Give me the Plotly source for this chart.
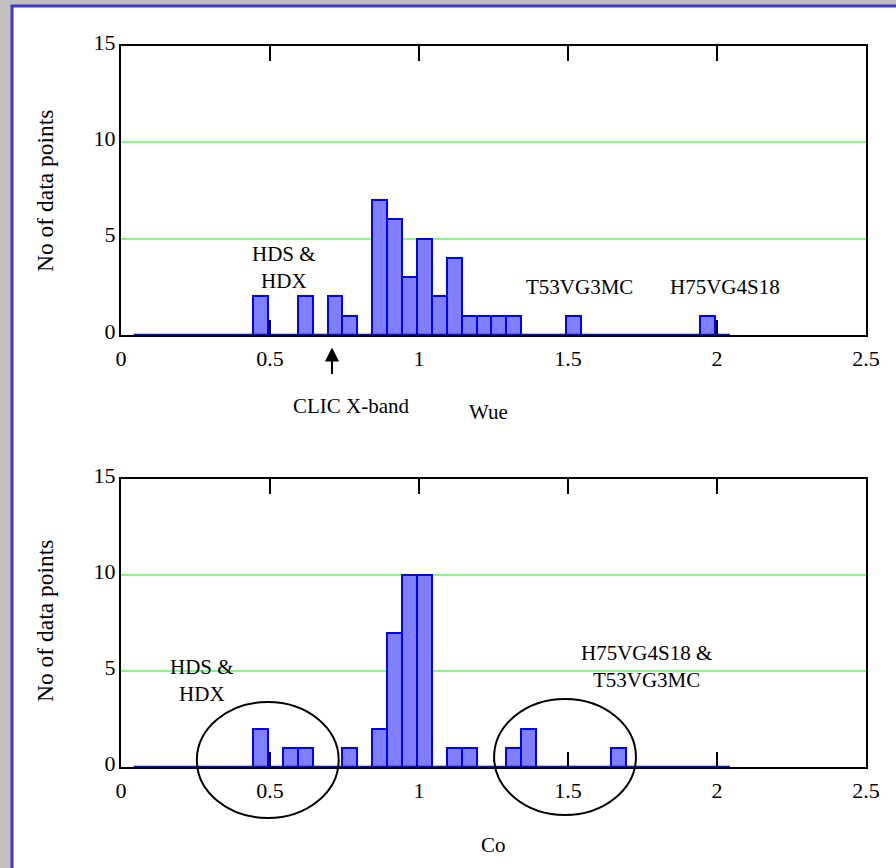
import plotly.graph_objects as go

# ---------------- data ----------------
# Wue histogram: bin centres (bin width 0.05) and counts
wue_centers = [0.468, 0.618, 0.718, 0.768, 0.868, 0.918, 0.968, 1.018,
               1.068, 1.118, 1.168, 1.218, 1.268, 1.318, 1.518, 1.968]
wue_counts = [2, 2, 2, 1, 7, 6, 3, 5, 2, 4, 1, 1, 1, 1, 1, 1]

# Co histogram
co_centers = [0.468, 0.568, 0.618, 0.768, 0.868, 0.918, 0.968, 1.018,
              1.118, 1.168, 1.318, 1.368, 1.668]
co_counts = [2, 1, 1, 1, 2, 7, 10, 10, 1, 1, 1, 2, 1]

bin_width = 0.05
hist_range = [0.043, 2.043]          # extent of the histogram bins (zero bins drawn as a line)

x_ticks = [0, 0.5, 1, 1.5, 2, 2.5]
x_tick_labels = ["0", "0.5", "1", "1.5", "2", "2.5"]
y_ticks = [0, 5, 10, 15]
y_tick_labels = ["0", "5", "10", "15"]

# ---------------- layout geometry ----------------
W, H = 896, 868
ML, MR, MT, MB = 121, 30, 46, 101
PW, PH = W - ML - MR, H - MT - MB
PLOT_BOTTOM = H - MB
dom_top = [(PLOT_BOTTOM - 335) / PH, 1.0]
dom_bot = [0.0, (PLOT_BOTTOM - 479) / PH]

FONT = "Liberation Serif"
BAR_FILL = "#8080ff"
BAR_LINE = "#0000ff"
GRID = "#80ff80"


def px2paper(px, py):
    return (px - ML) / PW, (PLOT_BOTTOM - py) / PH


def data2paper(x, y, dom):
    return x / 2.5, dom[0] + y / 15 * (dom[1] - dom[0])


fig = go.Figure()

for xs, ys, xa, ya in [(wue_centers, wue_counts, "x", "y"),
                       (co_centers, co_counts, "x2", "y2")]:
    fig.add_trace(go.Bar(
        x=xs, y=ys, width=bin_width, xaxis=xa, yaxis=ya,
        marker=dict(color=BAR_FILL, line=dict(color=BAR_LINE, width=2)),
        cliponaxis=False, showlegend=False, hoverinfo="skip"))
    fig.add_trace(go.Scatter(
        x=hist_range, y=[0, 0], mode="lines", xaxis=xa, yaxis=ya,
        line=dict(color=BAR_LINE, width=2.5), cliponaxis=False,
        showlegend=False, hoverinfo="skip"))

xaxis_common = dict(
    range=[0, 2.5], tickmode="array", tickvals=x_ticks, ticktext=x_tick_labels,
    ticks="inside", ticklen=15, tickwidth=2, tickcolor="black",
    showline=True, linecolor="black", linewidth=2, mirror="ticks",
    showgrid=False, zeroline=False, layer="below traces",
    tickfont=dict(family=FONT, size=22, color="black"),
    ticklabelstandoff=3, fixedrange=True,
)
yaxis_common = dict(
    range=[0, 15], tickmode="array", tickvals=y_ticks, ticktext=y_tick_labels,
    ticks="", showline=True, linecolor="black", linewidth=2, mirror=True,
    showgrid=True, gridcolor=GRID, gridwidth=2, zeroline=False,
    layer="below traces", tickfont=dict(family=FONT, size=22, color="black"),
    ticklabelstandoff=-1, ticklabelshift=-4, fixedrange=True,
)

fig.update_layout(
    width=W, height=H,
    margin=dict(l=ML, r=MR, t=MT, b=MB, pad=0),
    paper_bgcolor="#c3bdbb", plot_bgcolor="white",
    font=dict(family=FONT, size=21, color="black"),
    bargap=0,
    xaxis=dict(domain=[0, 1], anchor="y", **xaxis_common),
    yaxis=dict(domain=dom_top, anchor="x", **yaxis_common),
    xaxis2=dict(domain=[0, 1], anchor="y2", **xaxis_common),
    yaxis2=dict(domain=dom_bot, anchor="x2", **yaxis_common),
)

# white slide panel with blue border
x0p, y1p = px2paper(12, 6)
x1p, y0p = px2paper(910, 880)
fig.add_shape(type="rect", xref="paper", yref="paper", x0=x0p, x1=x1p, y0=y0p, y1=y1p,
              fillcolor="white", line=dict(color="#3a3ad0", width=3), layer="below")

# ellipses in the lower chart (given in data units)
for (cx, cy, rx, ry) in [(0.4925, 0.36, 0.238, 3.02), (1.49, 0.52, 0.238, 3.02)]:
    ex0, ey0 = data2paper(cx - rx, cy - ry, dom_bot)
    ex1, ey1 = data2paper(cx + rx, cy + ry, dom_bot)
    fig.add_shape(type="circle", xref="paper", yref="paper",
                  x0=ex0, x1=ex1, y0=ey0, y1=ey1,
                  line=dict(color="black", width=2), layer="above")

ann_font = dict(family=FONT, size=21, color="black")
annotations = [
    # (x, y in data units, chart domain, text)
    (0.547, 3.49, dom_top, "HDS &amp;<br>HDX"),
    (1.539, 2.5, dom_top, "T53VG3MC"),
    (2.026, 2.5, dom_top, "H75VG4S18"),
    (0.773, -3.7, dom_top, "CLIC X-band"),
    (1.232, -4.0, dom_top, "Wue"),
    (0.271, 4.53, dom_bot, "HDS &amp;<br>HDX"),
    (1.765, 5.26, dom_bot, "H75VG4S18 &amp;<br>T53VG3MC"),
    (1.251, -4.06, dom_bot, "Co"),
]
for (ax_, ay_, dom, txt) in annotations:
    xp, yp = data2paper(ax_, ay_, dom)
    fig.add_annotation(x=xp, y=yp, xref="paper", yref="paper", text=txt,
                       showarrow=False, xanchor="center", yanchor="middle", font=ann_font)

# arrow pointing at CLIC X-band
axp, ayp = data2paper(0.708, -0.65, dom_top)
fig.add_annotation(x=axp, y=ayp, xref="paper", yref="paper", text="", showarrow=True,
                   ax=0, ay=28, arrowhead=2, arrowsize=1.4, arrowwidth=2,
                   arrowcolor="black")

# y-axis titles
for (px, py) in [(45, 191), (45, 621)]:
    xp, yp = px2paper(px, py)
    fig.add_annotation(x=xp, y=yp, xref="paper", yref="paper", text="No of data points",
                       showarrow=False, textangle=-90, xanchor="center", yanchor="middle",
                       font=dict(family=FONT, size=23.5, color="black"))

fig.write_html("out.html", config={"displayModeBar": False},
               post_script="document.body.style.margin='0';document.body.style.overflow='hidden';")
